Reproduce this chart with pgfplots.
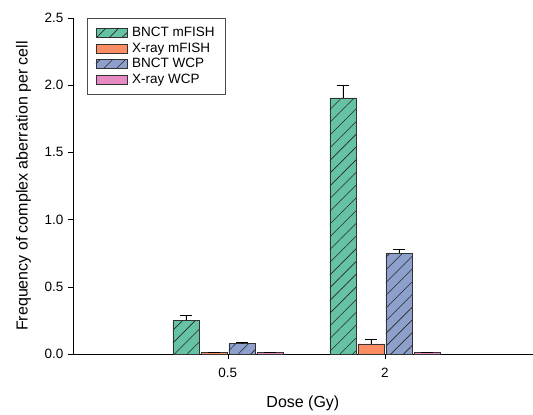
\documentclass[border=0pt]{standalone}
\usepackage{fontspec}
\setmainfont{Liberation Sans}
\usepackage{pgfplots}
\pgfplotsset{compat=1.18}
\usetikzlibrary{patterns.meta}
\definecolor{cgreen}{HTML}{66C2A5}
\definecolor{corange}{HTML}{FC8D62}
\definecolor{cblue}{HTML}{8DA0CB}
\definecolor{cpink}{HTML}{E78AC3}
\tikzset{hatch/.style={postaction={pattern={Lines[angle=45,distance=9pt,line width=0.6pt]},pattern color=black!85}}}
\begin{document}
\begin{tikzpicture}
\begin{axis}[
  scale only axis, width=460pt, height=336pt,
  xmin=-0.987, xmax=1.943, ymin=0, ymax=2.5,
  axis x line*=bottom, axis y line*=left,
  ybar=2pt, bar width=26pt,
  xtick={0,1}, xticklabels={0.5,2},
  ytick={0,0.5,1,1.5,2,2.5},
  /pgf/number format/assume math mode=true,
  tick align=outside, major tick length=5pt,
  tick style={black, thin},
  ticklabel style={font=\fontsize{13.5}{15}\selectfont},
  yticklabel style={xshift=-1pt,/pgf/number format/.cd,fixed,fixed zerofill,precision=1},
  xticklabel style={yshift=-6pt},
  xlabel={Dose (Gy)}, ylabel={Frequency of complex aberration per cell},
  label style={font=\fontsize{16}{18}\selectfont},
  xlabel style={yshift=-11pt},
  ylabel style={yshift=7pt},
  legend style={at={(rel axis cs:0.0305,0.999)}, anchor=north west,
    font=\fontsize{13.5}{15}\selectfont, nodes={font=\fontsize{13.5}{15}\selectfont},
    draw=black!70, row sep=0.5pt,
    inner xsep=8.5pt, inner ysep=7pt, cells={anchor=west}},
  legend image code/.code={\draw[#1,bar width=0pt] (0pt,-4.5pt) rectangle (31pt,4.5pt); \path (34pt,0pt);},
  error bars/y dir=plus, error bars/y explicit,
  error bars/error mark options={rotate=90, mark size=6pt, black, line width=0.6pt},
  error bars/error bar style={black, line width=0.6pt},
  clip=false,
]
\addplot[fill=cgreen, draw=black!80, hatch] coordinates {(0,0.25) +- (0,0.035) (1,1.905) +- (0,0.095)};
\addplot[fill=corange, draw=black!80] coordinates {(0,0.01) +- (0,0.004) (1,0.075) +- (0,0.03)};
\addplot[fill=cblue, draw=black!80, hatch] coordinates {(0,0.077) +- (0,0.01) (1,0.748) +- (0,0.03)};
\addplot[fill=cpink, draw=black!80] coordinates {(0,0.01) +- (0,0.004) (1,0.01) +- (0,0.004)};
\legend{BNCT mFISH, X-ray mFISH, BNCT WCP, X-ray WCP}
\path (rel axis cs:-0.1587,-0.1726) rectangle (rel axis cs:1,1.0536);
\end{axis}
\end{tikzpicture}
\end{document}
